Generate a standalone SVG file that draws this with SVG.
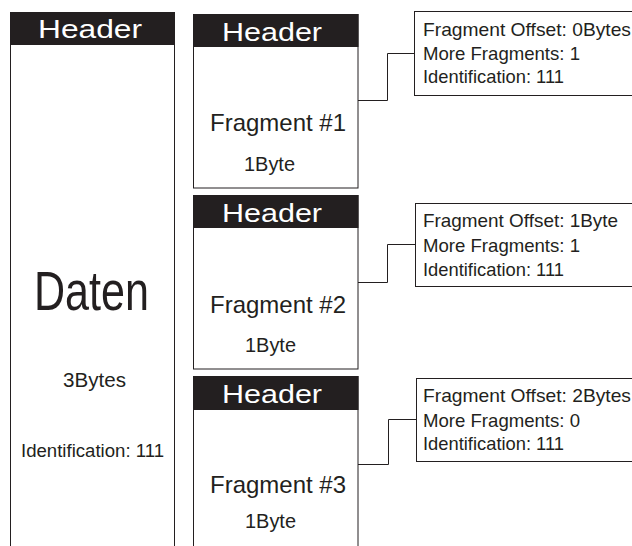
<svg xmlns="http://www.w3.org/2000/svg" width="632" height="546" viewBox="0 0 632 546">
  <style>
    .box { fill: #ffffff; stroke: #231f20; stroke-width: 1; }
    .bar { fill: #231f20; }
    .hdr { font-family: "Liberation Sans", Arial, sans-serif; font-size: 26px; fill: #ffffff; }
    .txt { font-family: "Liberation Sans", Arial, sans-serif; fill: #231f20; }
    .info { font-family: "Liberation Sans", Arial, sans-serif; font-size: 18.5px; fill: #231f20; }
    .wire { fill: none; stroke: #231f20; stroke-width: 1; }
  </style>

  <rect width="632" height="546" fill="#ffffff"/>

  <!-- original datagram -->
  <g id="datagram">
    <rect class="box" x="10.5" y="12.5" width="164" height="545"/>
    <rect class="bar" x="10.5" y="12" width="164.5" height="33"/>
    <text class="hdr" x="38" y="38" textLength="104" lengthAdjust="spacingAndGlyphs">Header</text>
    <text class="txt" x="34" y="310" font-size="56" textLength="115" lengthAdjust="spacingAndGlyphs">Daten</text>
    <text class="txt" x="63" y="387" font-size="20.5" textLength="63" lengthAdjust="spacingAndGlyphs">3Bytes</text>
    <text class="txt" x="21" y="457" font-size="18.3" textLength="143" lengthAdjust="spacingAndGlyphs">Identification: 111</text>
  </g>

  <!-- fragment 1 -->
  <g id="fragment1">
    <rect class="box" x="193.5" y="14.5" width="164.5" height="173.5"/>
    <rect class="bar" x="193.5" y="14" width="165" height="33"/>
    <text class="hdr" x="222" y="41" textLength="100" lengthAdjust="spacingAndGlyphs">Header</text>
    <text class="txt" x="210" y="131" font-size="24" textLength="136" lengthAdjust="spacingAndGlyphs">Fragment #1</text>
    <text class="txt" x="244" y="171" font-size="19.5" textLength="51" lengthAdjust="spacingAndGlyphs">1Byte</text>
  </g>

  <!-- fragment 2 -->
  <g id="fragment2">
    <rect class="box" x="193.5" y="195.5" width="164.5" height="173.5"/>
    <rect class="bar" x="193.5" y="195" width="165" height="33"/>
    <text class="hdr" x="222" y="222" textLength="100" lengthAdjust="spacingAndGlyphs">Header</text>
    <text class="txt" x="210" y="313" font-size="24" textLength="136" lengthAdjust="spacingAndGlyphs">Fragment #2</text>
    <text class="txt" x="245" y="352" font-size="19.5" textLength="51" lengthAdjust="spacingAndGlyphs">1Byte</text>
  </g>

  <!-- fragment 3 -->
  <g id="fragment3">
    <rect class="box" x="193.5" y="376.5" width="164.5" height="180"/>
    <rect class="bar" x="193.5" y="376" width="165" height="34"/>
    <text class="hdr" x="222" y="403" textLength="100" lengthAdjust="spacingAndGlyphs">Header</text>
    <text class="txt" x="210" y="493" font-size="24" textLength="136" lengthAdjust="spacingAndGlyphs">Fragment #3</text>
    <text class="txt" x="245" y="528" font-size="19.5" textLength="51" lengthAdjust="spacingAndGlyphs">1Byte</text>
  </g>

  <!-- fragment header fields -->
  <g id="fields1">
    <rect class="box" x="414.5" y="11.5" width="230" height="84"/>
    <text class="info" x="423" y="36" textLength="208" lengthAdjust="spacingAndGlyphs">Fragment Offset: 0Bytes</text>
    <text class="info" x="423" y="60" textLength="157" lengthAdjust="spacingAndGlyphs">More Fragments: 1</text>
    <text class="info" x="423" y="83" textLength="141" lengthAdjust="spacingAndGlyphs">Identification: 111</text>
  </g>

  <g id="fields2">
    <rect class="box" x="415.5" y="203.5" width="230" height="83"/>
    <text class="info" x="423" y="227" textLength="195" lengthAdjust="spacingAndGlyphs">Fragment Offset: 1Byte</text>
    <text class="info" x="423" y="252" textLength="157" lengthAdjust="spacingAndGlyphs">More Fragments: 1</text>
    <text class="info" x="423" y="276" textLength="141" lengthAdjust="spacingAndGlyphs">Identification: 111</text>
  </g>

  <g id="fields3">
    <rect class="box" x="416.5" y="378.5" width="230" height="83"/>
    <text class="info" x="423" y="402" textLength="208" lengthAdjust="spacingAndGlyphs">Fragment Offset: 2Bytes</text>
    <text class="info" x="423" y="427" textLength="157" lengthAdjust="spacingAndGlyphs">More Fragments: 0</text>
    <text class="info" x="423" y="450" textLength="141" lengthAdjust="spacingAndGlyphs">Identification: 111</text>
  </g>

  <!-- connectors -->
  <g id="connectors">
    <polyline class="wire" points="358,100.5 387.5,100.5 387.5,53.5 414.5,53.5"/>
    <polyline class="wire" points="358,282.5 387.5,282.5 387.5,244.5 415.5,244.5"/>
    <polyline class="wire" points="358,464.5 388.5,464.5 388.5,419.5 416.5,419.5"/>
  </g>
</svg>
